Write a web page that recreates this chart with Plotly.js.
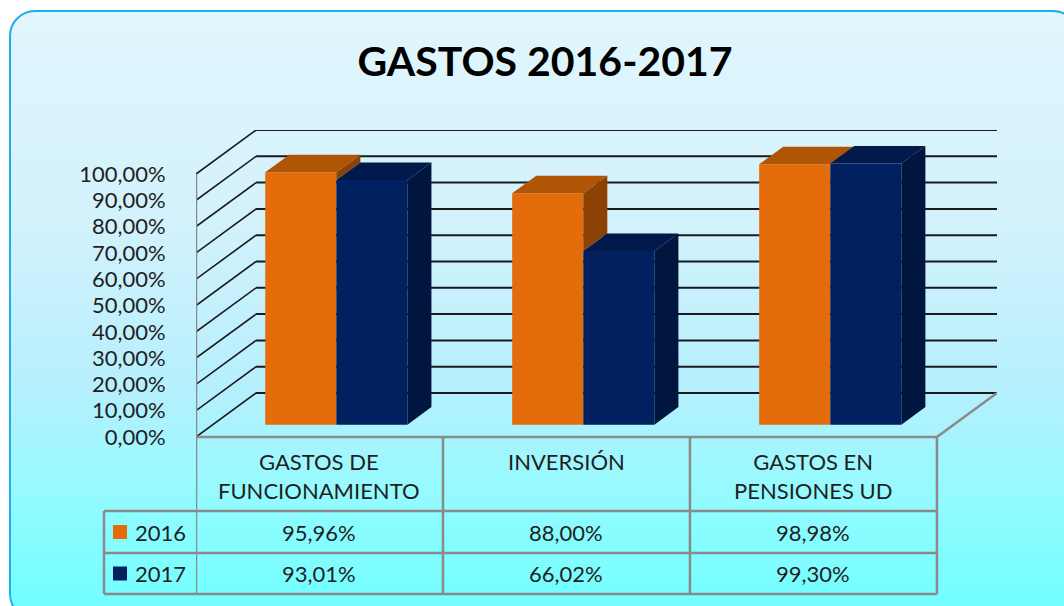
<!DOCTYPE html>
<html>
<head>
<meta charset="utf-8">
<script src="https://cdn.plot.ly/plotly-3.0.1.min.js"></script>
<style>
  html, body { margin: 0; padding: 0; background: #ffffff; }
  #wrap { position: relative; width: 1064px; height: 606px; overflow: hidden; background: #ffffff; }
  #bg { position: absolute; left: 9px; top: 10px; width: 1070px; height: 610px;
        border: 2px solid #1eaee8; border-radius: 26px; box-sizing: border-box;
        background: linear-gradient(to bottom, #e1f6fd 0%, #d2f2fc 35%, #b6effd 62%, #93fbff 80%, #6effff 100%); }
  #chart { position: absolute; left: 0; top: 0; width: 1064px; height: 606px; }
</style>
</head>
<body>
<div id="wrap"><div id="bg"></div><div id="chart"></div></div>
<script>
// ---------------- DATA ----------------
const categories = ['GASTOS DE<br>FUNCIONAMIENTO', 'INVERSIÓN', 'GASTOS EN<br>PENSIONES UD'];
const seriesNames = ['2016', '2017'];
const values2016 = [0.9596, 0.8800, 0.9898];
const values2017 = [0.9301, 0.6602, 0.9930];
const tickValues = [0, 0.1, 0.2, 0.3, 0.4, 0.5, 0.6, 0.7, 0.8, 0.9, 1.0];
const chartTitle = 'GASTOS 2016-2017';

// ---------------- STYLE / GEOMETRY ----------------
const FONT = 'Lato, "Open Sans", sans-serif';
const TXT = '#1f1f1f';
const colOrange = { front: '#e46c0a', top: '#b05406', side: '#8c4205' };
const colNavy = { front: '#00205f', top: '#011a4b', side: '#01163e' };
const W = 1064, H = 606;
const M = { l: 196, r: 67, t: 130, b: 169 };
const plotW = W - M.l - M.r, plotH = H - M.t - M.b;
const nCat = categories.length;
const DX = 60 / (plotW / (nCat + 60 / (740 / 3)));  // depth in x units
const catPx = 740 / nCat;
const DXu = 60 / catPx;          // depth offset in category units
const DYu = 44 / 262.9;          // depth offset in value units
const yMax = 1 + DYu;
const xMin = -0.5, xMax = nCat - 0.5 + DXu;
const d0 = 0.28, d1 = 0.68;      // bar depth start / end (fraction of floor depth)
const barW = 71 / catPx;         // bar width in category units

const px2paperX = px => (px - M.l) / plotW;
const py2paperY = py => (M.t + plotH - py) / plotH;
const fmt = v => (v * 100).toFixed(2).replace('.', ',') + '%';

// ---------------- BARS (3D faces from data) ----------------
const traces = [];
function faces(values, leftOffset, colors, clipAbove) {
  const sx = d0 * DXu, sy = d0 * DYu;
  const ddx = (d1 - d0) * DXu, ddy = (d1 - d0) * DYu;
  const side = { x: [], y: [] }, top = { x: [], y: [] };
  values.forEach((v, i) => {
    const xl = i + leftOffset + sx, xr = xl + barW;
    const yb = sy, yt = sy + v;
    // side face (clip part hidden by the bar to its right)
    const lo = clipAbove ? Math.max(yb, sy + clipAbove[i]) : yb;
    if (yt > lo) {
      side.x.push(xr, xr + ddx, xr + ddx, xr, xr, null);
      side.y.push(lo, lo + ddy, yt + ddy, yt, lo, null);
    }
    top.x.push(xl, xr, xr + ddx, xl + ddx, xl, null);
    top.y.push(yt, yt, yt + ddy, yt + ddy, yt, null);
  });
  traces.push({ type: 'scatter', mode: 'lines', x: side.x, y: side.y, fill: 'toself',
    fillcolor: colors.side, line: { width: 0, color: colors.side }, hoverinfo: 'skip', showlegend: false });
  traces.push({ type: 'scatter', mode: 'lines', x: top.x, y: top.y, fill: 'toself',
    fillcolor: colors.top, line: { width: 0, color: colors.top }, hoverinfo: 'skip', showlegend: false });
}
// front faces as bar traces
[[values2016, -barW, colOrange, seriesNames[0]], [values2017, 0, colNavy, seriesNames[1]]].forEach(([vals, off, c, name]) => {
  traces.push({
    type: 'bar', name: name, x: vals.map((_, i) => i), y: vals,
    base: vals.map(() => d0 * DYu), width: vals.map(() => barW),
    offset: vals.map(() => off + d0 * DXu),
    marker: { color: c.front, line: { width: 0 } }, hoverinfo: 'skip', showlegend: false
  });
});
faces(values2016, -barW, colOrange, values2017);
faces(values2017, 0, colNavy, null);

// ---------------- WALLS / GRID ----------------
const shapes = [];
tickValues.forEach(v => {
  shapes.push({ type: 'line', layer: 'below', xref: 'x', yref: 'y', x0: xMin + DXu, x1: xMax, y0: v + DYu, y1: v + DYu,
    line: { color: '#1a1a1a', width: 2 } });
  shapes.push({ type: 'line', layer: 'below', xref: 'x', yref: 'y', x0: xMin, x1: xMin + DXu, y0: v, y1: v + DYu,
    line: { color: '#1a1a1a', width: 1.6 } });
});
const gray = '#8a8a8a';
// left wall front edge
shapes.push({ type: 'line', layer: 'above', xref: 'x', yref: 'y', x0: xMin, x1: xMin, y0: 0, y1: tickValues[tickValues.length - 1],
  line: { color: gray, width: 2.5 } });
// floor right edge
shapes.push({ type: 'line', layer: 'below', xref: 'x', yref: 'y', x0: nCat - 0.5, x1: xMax, y0: 0, y1: DYu,
  line: { color: gray, width: 2.5 } });

// ---------------- DATA TABLE ----------------
const rowY = [437, 511, 553, 594];
const legendLeft = px2paperX(104);
shapes.push({ type: 'line', xref: 'x', yref: 'paper', x0: xMin, x1: nCat - 0.5, y0: py2paperY(rowY[0]), y1: py2paperY(rowY[0]), line: { color: gray, width: 2.5 } });
for (let r = 1; r < rowY.length; r++) {
  shapes.push({ type: 'line', xref: 'paper', yref: 'paper', x0: legendLeft, x1: 1 - DXu / (xMax - xMin), y0: py2paperY(rowY[r]), y1: py2paperY(rowY[r]), line: { color: gray, width: 2.5 } });
}
shapes.push({ type: 'line', xref: 'paper', yref: 'paper', x0: legendLeft, x1: legendLeft, y0: py2paperY(rowY[1]), y1: py2paperY(rowY[3]), line: { color: gray, width: 2.5 } });
for (let i = 0; i <= nCat; i++) {
  shapes.push({ type: 'line', xref: 'x', yref: 'paper', x0: i - 0.5, x1: i - 0.5, y0: py2paperY(rowY[0]), y1: py2paperY(rowY[3]), line: { color: gray, width: 2.5 } });
}

const annotations = [];
categories.forEach((c, i) => {
  annotations.push({ text: c, xref: 'x', yref: 'paper', x: i, y: py2paperY(446), xanchor: 'center', yanchor: 'top',
    showarrow: false, font: { family: FONT, size: 22, color: TXT } });
});
[[values2016, colOrange.front, seriesNames[0]], [values2017, colNavy.front, seriesNames[1]]].forEach(([vals, col, name], r) => {
  const yc = (rowY[r + 1] + rowY[r + 2]) / 2;
  vals.forEach((v, i) => {
    annotations.push({ text: fmt(v), xref: 'x', yref: 'paper', x: i, y: py2paperY(yc), xanchor: 'center', yanchor: 'middle',
      showarrow: false, font: { family: FONT, size: 22, color: TXT } });
  });
  annotations.push({ text: name, xref: 'paper', yref: 'paper', x: px2paperX(133), y: py2paperY(yc), xanchor: 'left', yanchor: 'middle',
    showarrow: false, font: { family: FONT, size: 22, color: TXT } });
  shapes.push({ type: 'rect', xref: 'paper', yref: 'paper', x0: px2paperX(113), x1: px2paperX(127), y0: py2paperY(yc - 7), y1: py2paperY(yc + 7),
    fillcolor: col, line: { width: 0 } });
});

const layout = {
  width: W, height: H, autosize: false,
  margin: { l: M.l, r: M.r, t: M.t, b: M.b, pad: 0 },
  paper_bgcolor: 'rgba(0,0,0,0)', plot_bgcolor: 'rgba(0,0,0,0)',
  separators: ', ',
  barmode: 'overlay',
  showlegend: false,
  title: { text: '<b>' + chartTitle + '</b>', xref: 'container', yref: 'container', x: 545 / W, xanchor: 'center',
    y: 1 - 62 / H, yanchor: 'middle', font: { family: FONT, size: 41, color: '#000000' } },
  xaxis: { range: [xMin, xMax], visible: false, fixedrange: true },
  yaxis: { range: [0, yMax], tickvals: tickValues, tickformat: '.2%', showgrid: false, zeroline: false, showline: false,
    ticks: 'outside', ticklen: 25, tickcolor: 'rgba(0,0,0,0)', tickfont: { family: FONT, size: 22, color: TXT }, fixedrange: true },
  shapes: shapes,
  annotations: annotations
};

Plotly.newPlot('chart', traces, layout, { displayModeBar: false, staticPlot: true });
</script>
</body>
</html>
